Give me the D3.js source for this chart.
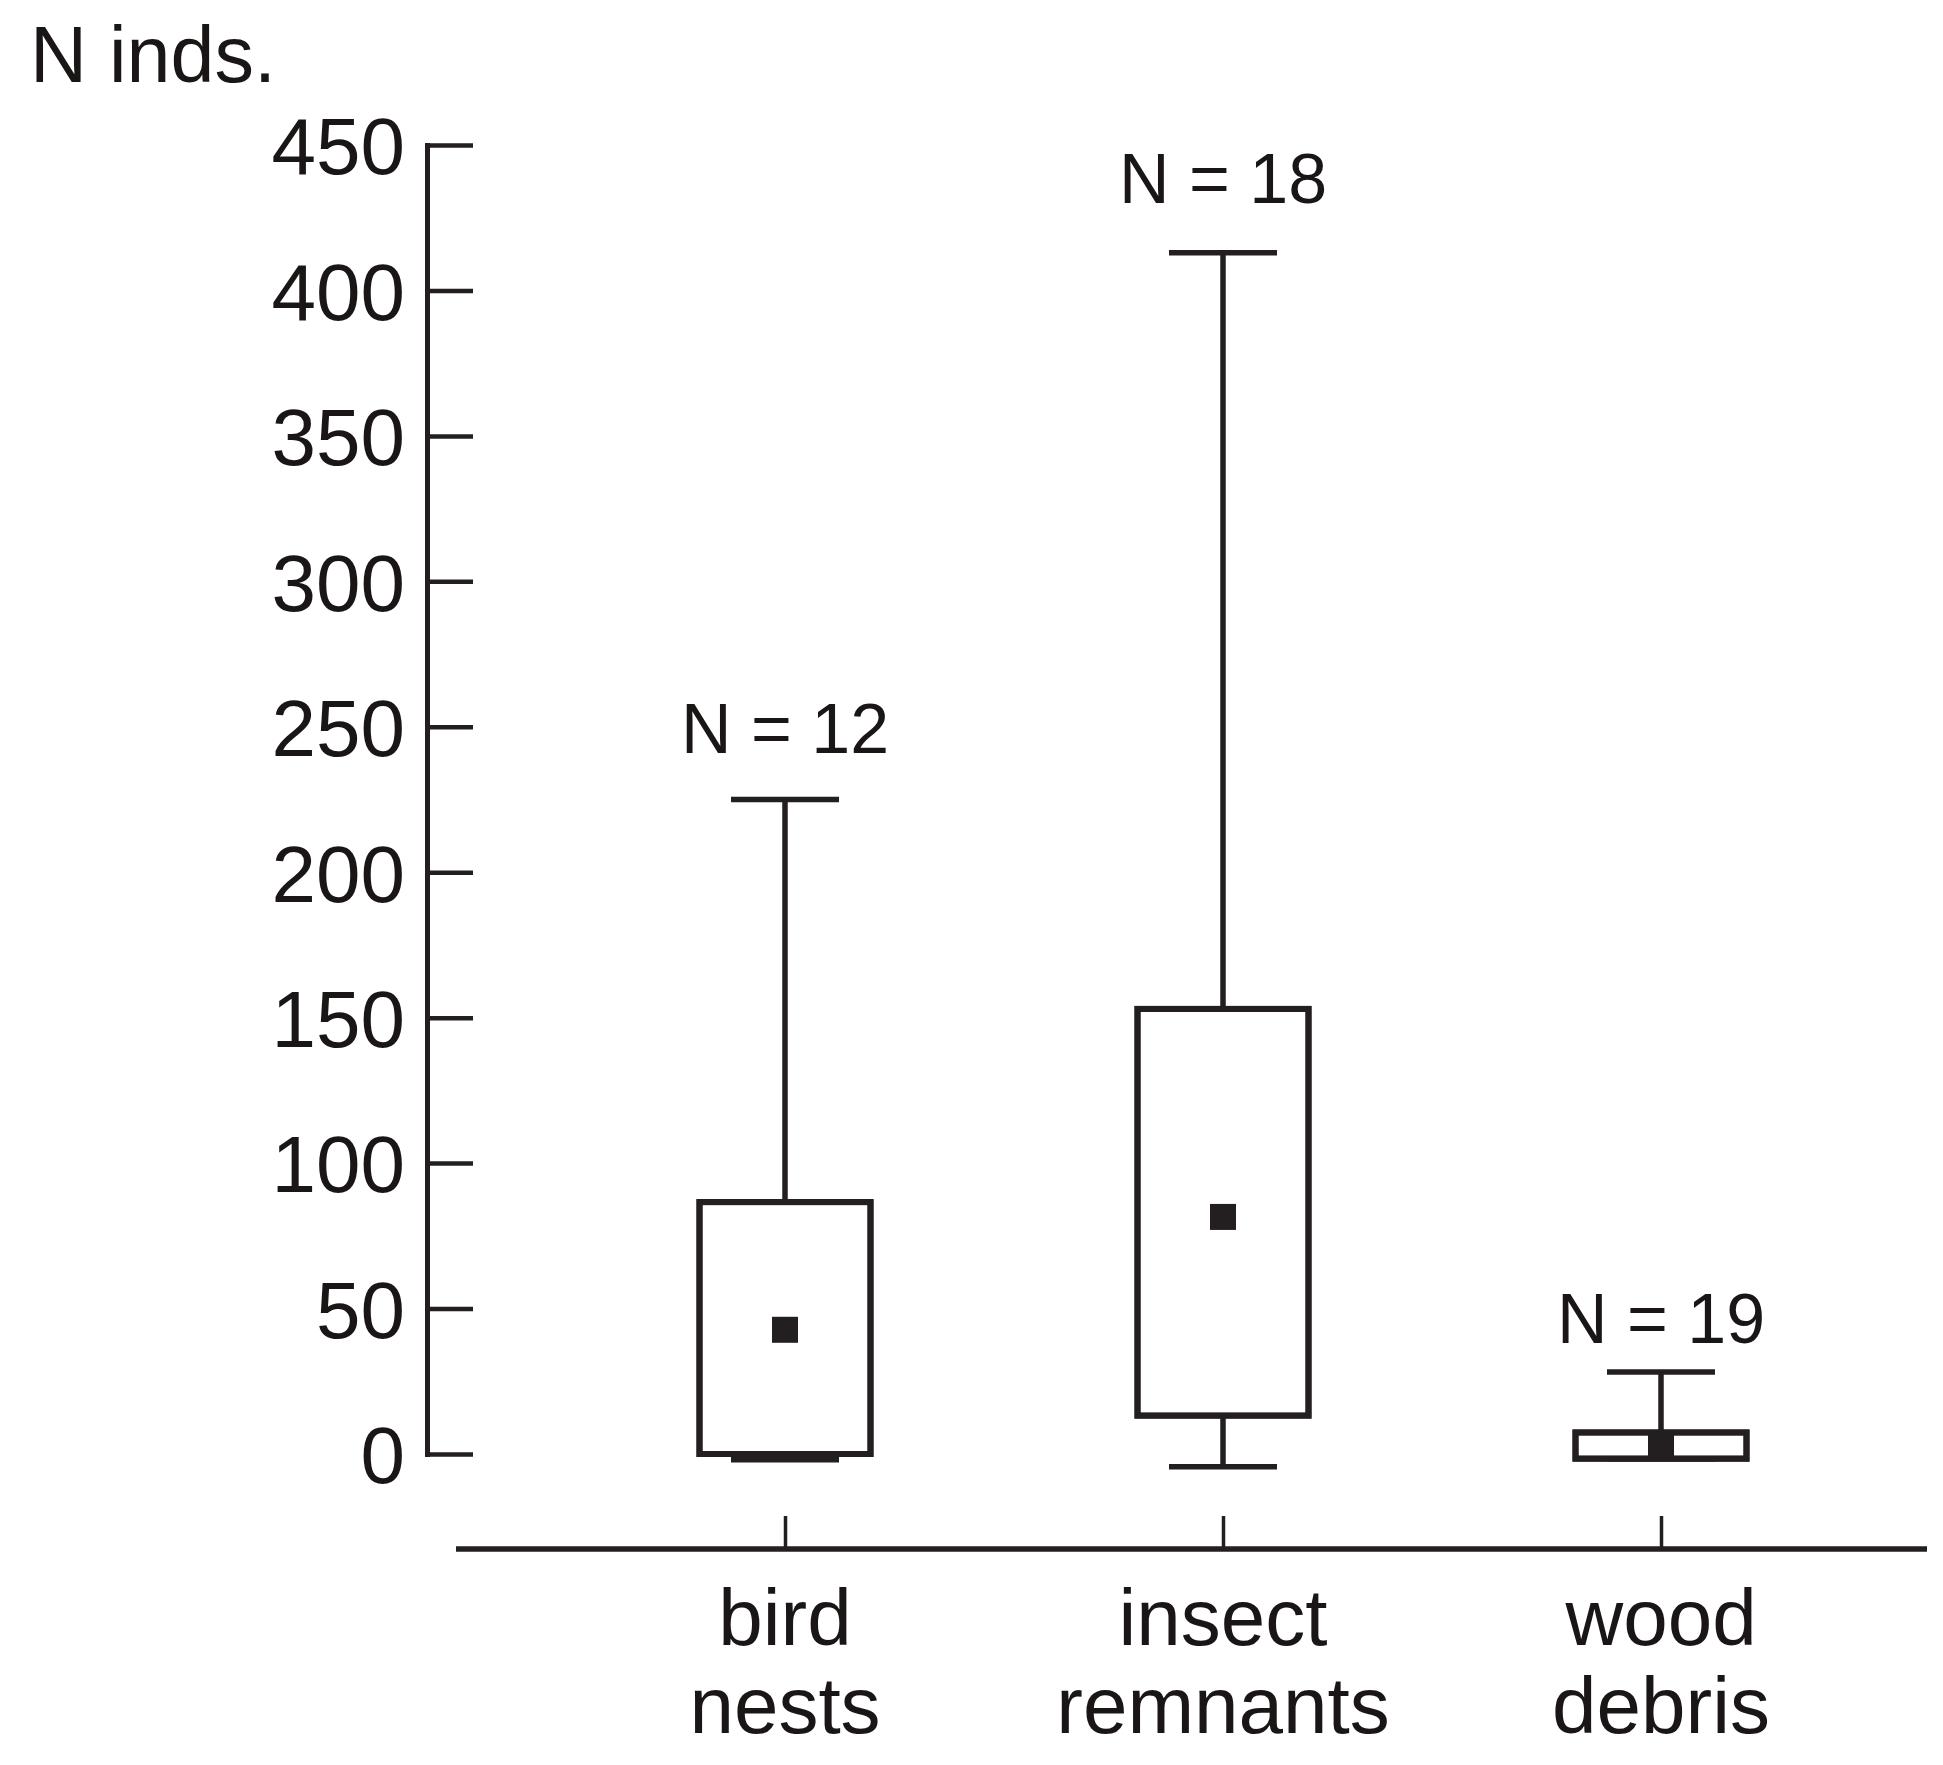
<!DOCTYPE html>
<html>
<head>
<meta charset="utf-8">
<script src="https://cdn.jsdelivr.net/npm/d3@7"></script>
<style>
  html, body { margin: 0; padding: 0; background: #fff; }
  svg { display: block; }
  text { font-family: "Liberation Sans", Arial, sans-serif; fill: #1a1616; }
</style>
</head>
<body>
<svg id="chart" width="1943" height="1765"></svg>
<script>
// ---- data ----
const categories = ["bird nests", "insect remnants", "wood debris"];
const labelLines = [["bird", "nests"], ["insect", "remnants"], ["wood", "debris"]];
const sampleN = [12, 18, 19];
const nLabelAt = [241, 430, 38];
const means = [42.7, 81.5, 3.5];
const boxLow = [0, 13.2, -1.6];
const boxHigh = [86.6, 153, 7.4];
const whiskerLow = [-2, -4.4, -1.6];
const whiskerHigh = [225, 413, 28.2];
const yTicks = [0, 50, 100, 150, 200, 250, 300, 350, 400, 450];
const yLabel = "N inds.";

// ---- drawing ----
const ink = "#231f20";
const svg = d3.select("#chart");

const y = d3.scaleLinear().domain([0, 450]).range([1454, 145]);
const x = d3.scalePoint().domain(categories).range([785, 1661]);

const axisX0 = 427;

// y axis
const yAxis = svg.append("g")
  .attr("transform", `translate(${axisX0},0)`)
  .call(d3.axisLeft(y).tickValues(yTicks).tickSizeInner(-46).tickSizeOuter(0).tickPadding(22));
yAxis.select(".domain").attr("stroke", ink).attr("stroke-width", 5).attr("stroke-linecap", "square");
yAxis.selectAll(".tick line").attr("stroke", ink).attr("stroke-width", 4.5);
yAxis.selectAll(".tick text")
  .style("font-size", "80px")
  .style("font-family", '"Liberation Sans", Arial, sans-serif')
  .attr("fill", "#1a1616")
  .attr("dy", "0.36em");

// y label
svg.append("text").attr("x", 30).attr("y", 82)
  .style("font-size", "79px").text(yLabel);

// x axis
const xAxisY = 1549;
const xAxis = svg.append("g")
  .attr("transform", `translate(0,${xAxisY})`)
  .call(d3.axisBottom(x).tickSizeInner(-33).tickSizeOuter(0).tickFormat(""));
xAxis.select(".domain").remove();
xAxis.selectAll(".tick line").attr("stroke", ink).attr("stroke-width", 3.5);
xAxis.append("line").attr("x1", 456).attr("x2", 1927).attr("y1", 0).attr("y2", 0)
  .attr("stroke", ink).attr("stroke-width", 5.5);

// x labels (two lines)
const xl = svg.append("g").selectAll("text").data(categories).join("text")
  .attr("text-anchor", "middle")
  .style("font-size", "80px");
xl.each(function(d, i) {
  const t = d3.select(this);
  labelLines[i].forEach((line, j) => {
    t.append("tspan").attr("x", x(d)).attr("y", 1645 + j * 88).text(line);
  });
});

// boxes
const boxW = 171, capW = 108, meanS = 26;
const groups = svg.append("g").selectAll("g").data(categories).join("g");

// whiskers
groups.append("line")
  .attr("x1", d => x(d)).attr("x2", d => x(d))
  .attr("y1", (d, i) => y(whiskerHigh[i])).attr("y2", (d, i) => y(boxHigh[i]))
  .attr("stroke", ink).attr("stroke-width", 5.5);
groups.append("line")
  .attr("x1", d => x(d)).attr("x2", d => x(d))
  .attr("y1", (d, i) => y(whiskerLow[i])).attr("y2", (d, i) => y(boxLow[i]))
  .attr("stroke", ink).attr("stroke-width", 5.5);
groups.append("line")
  .attr("x1", d => x(d) - capW / 2).attr("x2", d => x(d) + capW / 2)
  .attr("y1", (d, i) => y(whiskerHigh[i])).attr("y2", (d, i) => y(whiskerHigh[i]))
  .attr("stroke", ink).attr("stroke-width", 5.5);
groups.append("line")
  .attr("x1", d => x(d) - capW / 2).attr("x2", d => x(d) + capW / 2)
  .attr("y1", (d, i) => y(whiskerLow[i])).attr("y2", (d, i) => y(whiskerLow[i]))
  .attr("stroke", ink).attr("stroke-width", 5.5);

// box rect
groups.append("rect")
  .attr("x", d => x(d) - boxW / 2).attr("width", boxW)
  .attr("y", (d, i) => y(boxHigh[i]))
  .attr("height", (d, i) => y(boxLow[i]) - y(boxHigh[i]))
  .attr("fill", "#fff").attr("stroke", ink).attr("stroke-width", 6);

// mean marker
groups.append("rect")
  .attr("x", d => x(d) - meanS / 2).attr("width", meanS)
  .attr("y", (d, i) => y(means[i]) - meanS / 2).attr("height", meanS)
  .attr("fill", ink);

// redraw box outlines over marker
groups.append("rect")
  .attr("x", d => x(d) - boxW / 2).attr("width", boxW)
  .attr("y", (d, i) => y(boxHigh[i]))
  .attr("height", (d, i) => y(boxLow[i]) - y(boxHigh[i]))
  .attr("fill", "none").attr("stroke", ink).attr("stroke-width", 6);

// N labels
groups.append("text")
  .attr("x", d => x(d))
  .attr("y", (d, i) => y(nLabelAt[i]))
  .attr("text-anchor", "middle")
  .style("font-size", "70px")
  .text((d, i) => `N = ${sampleN[i]}`);
</script>
</body>
</html>
